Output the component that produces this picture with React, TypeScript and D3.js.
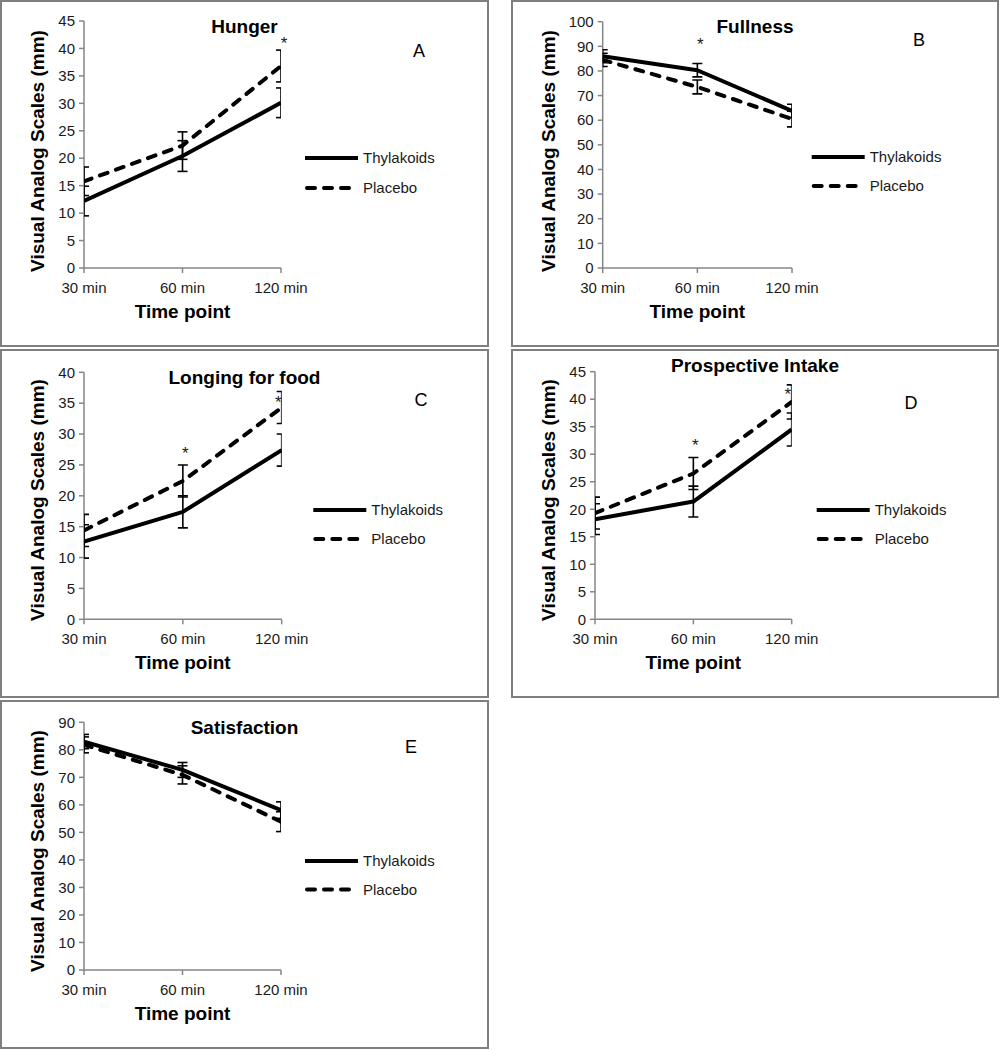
import React from "react";
import * as d3 from "d3";

// ---------- data ----------
const categories = ["30 min", "60 min", "120 min"];
const panelTitles = ["Hunger", "Fullness", "Longing for food", "Prospective Intake", "Satisfaction"];
const panelLetters = ["A", "B", "C", "D", "E"];
const seriesNames = ["Thylakoids", "Placebo"];

const thylakoidsMeans = [
  [12.2, 20.4, 30.1],
  [86.0, 80.3, 63.8],
  [12.6, 17.4, 27.4],
  [18.2, 21.4, 34.5],
  [83.0, 72.7, 58.1],
];
const thylakoidsErr = [
  [2.7, 2.8, 2.7],
  [2.6, 2.7, 2.7],
  [2.7, 2.6, 2.6],
  [2.8, 2.8, 3.0],
  [2.6, 2.7, 3.0],
];
const placeboMeans = [
  [15.8, 22.3, 36.8],
  [84.5, 73.5, 60.5],
  [14.4, 22.4, 34.3],
  [19.3, 26.5, 39.5],
  [81.8, 70.9, 53.9],
];
const placeboErr = [
  [2.6, 2.5, 2.9],
  [2.7, 2.8, 3.2],
  [2.6, 2.6, 2.6],
  [2.9, 2.9, 3.1],
  [2.9, 3.3, 3.6],
];
const yMax = [45, 100, 40, 45, 90];
const yStep = [5, 10, 5, 5, 10];
// significance markers: category index, value (glyph centre), label offset
const stars = [
  [{ cat: 2, value: 41.6, dx: 3 }],
  [{ cat: 1, value: 92.3, dx: 3 }],
  [{ cat: 1, value: 27.5, dx: 2.5 }, { cat: 2, value: 35.8, dx: -3.4 }],
  [{ cat: 1, value: 32.4, dx: 2 }, { cat: 2, value: 41.7, dx: -4 }],
  [],
];

// ---------- layout ----------
const layout = [
  { left: 1, top: 1, w: 487, h: 345, x0: 83, x1: 280, y0: 267, yT: 20, titleY: 32, letter: [418, 56], legend: [304, 157, 187] },
  { left: 512, top: 1, w: 486, h: 345, x0: 90.7, x1: 280, y0: 267, yT: 20.7, titleY: 32.3, letter: [407, 45], legend: [299.7, 156, 185] },
  { left: 1, top: 350, w: 487, h: 347, x0: 83, x1: 280.7, y0: 269.3, yT: 22.3, titleY: 34.3, letter: [420, 56], legend: [312.3, 160, 189] },
  { left: 512, top: 350, w: 486, h: 347, x0: 83, x1: 279.7, y0: 269.3, yT: 21.7, titleY: 21.7, letter: [399, 59], legend: [304.7, 160, 189] },
  { left: 1, top: 701, w: 487, h: 347, x0: 83, x1: 280, y0: 269, yT: 21.3, titleY: 33.3, letter: [410, 52], legend: [304, 160, 188.5] },
];

const FONT = "'Liberation Sans', Arial, Helvetica, sans-serif";
const AXIS = "#868686";
const LINE_W = 4;
const DASH = "8 9";

function Panel({ i }: { i: number }) {
  const L = layout[i];
  const x = d3.scalePoint<string>().domain(categories).range([L.x0, L.x1]);
  const y = d3.scaleLinear().domain([0, yMax[i]]).range([L.y0, L.yT]);
  const ticks = d3.range(0, yMax[i] + 0.001, yStep[i]);
  const line = d3
    .line<number>()
    .x((_, k) => x(categories[k]) as number)
    .y((v) => y(v));
  const series = [
    { name: seriesNames[0], means: thylakoidsMeans[i], err: thylakoidsErr[i], dash: undefined },
    { name: seriesNames[1], means: placeboMeans[i], err: placeboErr[i], dash: DASH },
  ];
  const clipId = `clip-${i}`;
  const cx = (L.x0 + L.x1) / 2;
  return (
    <g transform={`translate(${L.left},${L.top})`}>
      <rect x={0} y={0} width={L.w} height={L.h} fill="#fff" stroke="#7f7f7f" strokeWidth={2} />
      <defs>
        <clipPath id={clipId}>
          <rect x={L.x0} y={0} width={L.x1 - L.x0} height={L.y0 + 2} />
        </clipPath>
      </defs>
      {/* title */}
      <text x={L.w / 2} y={L.titleY} textAnchor="middle" fontFamily={FONT} fontWeight="bold" fontSize={19} fill="#000">
        {panelTitles[i]}
      </text>
      {/* letter */}
      <text x={L.letter[0]} y={L.letter[1]} textAnchor="middle" fontFamily={FONT} fontSize={18} fill="#000">
        {panelLetters[i]}
      </text>
      {/* y axis */}
      <line x1={L.x0} x2={L.x0} y1={y(0)} y2={y(yMax[i])} stroke={AXIS} strokeWidth={1.5} />
      {ticks.map((t) => (
        <g key={t}>
          <line x1={L.x0 - 5} x2={L.x0} y1={y(t)} y2={y(t)} stroke={AXIS} strokeWidth={1.5} />
          <text x={L.x0 - 9} y={y(t)} dy="0.35em" textAnchor="end" fontFamily={FONT} fontSize={15} fill="#1a1a1a">
            {t}
          </text>
        </g>
      ))}
      {/* x axis */}
      <line x1={L.x0} x2={L.x1} y1={y(0)} y2={y(0)} stroke={AXIS} strokeWidth={1.5} />
      {categories.map((c) => (
        <g key={c}>
          <line x1={x(c)} x2={x(c)} y1={y(0)} y2={y(0) + 5} stroke={AXIS} strokeWidth={1.5} />
          <text x={x(c)} y={y(0) + 25} textAnchor="middle" fontFamily={FONT} fontSize={15} fill="#1a1a1a">
            {c}
          </text>
        </g>
      ))}
      {/* axis titles */}
      <text x={cx} y={L.y0 + 50} textAnchor="middle" fontFamily={FONT} fontWeight="bold" fontSize={19} fill="#000">
        Time point
      </text>
      <text
        transform={`translate(43,150) rotate(-90)`}
        textAnchor="middle"
        fontFamily={FONT}
        fontWeight="bold"
        fontSize={19}
        fill="#000"
      >
        Visual Analog Scales (mm)
      </text>
      {/* series */}
      <g clipPath={`url(#${clipId})`}>
        {series.map((s) => (
          <path
            key={s.name}
            d={line(s.means) || ""}
            fill="none"
            stroke="#000"
            strokeWidth={LINE_W}
            strokeDasharray={s.dash}
            strokeLinecap={s.dash ? "round" : "butt"}
            strokeLinejoin="round"
          />
        ))}
        {series.map((s) =>
          s.means.map((m, k) => {
            const px = x(categories[k]) as number;
            const lo = y(m - s.err[k]);
            const hi = y(m + s.err[k]);
            return (
              <g key={s.name + k} stroke="#000" strokeWidth={1.6}>
                <line x1={px} x2={px} y1={lo} y2={hi} />
                <line x1={px - 5} x2={px + 5} y1={lo} y2={lo} />
                <line x1={px - 5} x2={px + 5} y1={hi} y2={hi} />
              </g>
            );
          })
        )}
      </g>
      {/* stars */}
      {stars[i].map((s, k) => (
        <text
          key={k}
          x={(x(categories[s.cat]) as number) + s.dx}
          y={y(s.value)}
          dy="0.57em"
          textAnchor="middle"
          fontFamily={FONT}
          fontSize={17}
          fill="#1a1a1a"
        >
          *
        </text>
      ))}
      {/* legend */}
      {series.map((s, k) => {
        const ly = L.legend[1 + k];
        return (
          <g key={s.name}>
            <line
              x1={L.legend[0] + (s.dash ? 2 : 0)}
              x2={L.legend[0] + 53 - (s.dash ? 2 : 0)}
              y1={ly}
              y2={ly}
              stroke="#000"
              strokeWidth={LINE_W}
              strokeDasharray={s.dash}
              strokeLinecap={s.dash ? "round" : "butt"}
            />
            <text x={L.legend[0] + 58} y={ly} dy="0.35em" fontFamily={FONT} fontSize={15} fill="#1a1a1a">
              {s.name}
            </text>
          </g>
        );
      })}
    </g>
  );
}

export default function App() {
  return (
    <svg
      width={1000}
      height={1050}
      viewBox="0 0 1000 1050"
      style={{ position: "absolute", left: 0, top: 0, background: "#fff" }}
    >
      <rect x={0} y={0} width={1000} height={1050} fill="#fff" />
      {layout.map((_, i) => (
        <Panel key={i} i={i} />
      ))}
    </svg>
  );
}
